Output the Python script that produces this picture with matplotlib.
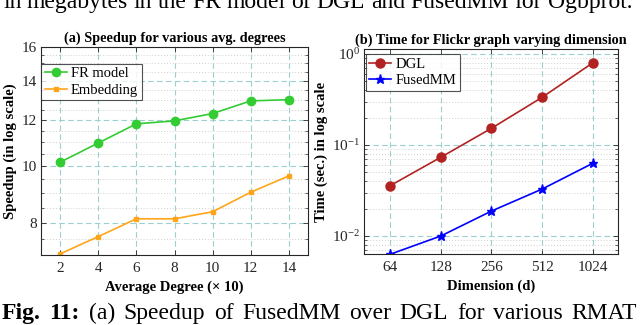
import matplotlib
matplotlib.use("Agg")
import matplotlib.pyplot as plt
import matplotlib.ticker as mticker
import numpy as np

# ---- data ----
avg_degree = [2, 4, 6, 8, 10, 12, 14]
fr_model = [10.16, 10.96, 11.82, 11.96, 12.31, 12.94, 13.0]
embedding = [7.08, 7.58, 8.13, 8.13, 8.36, 9.03, 9.63]

dimension = [64, 128, 256, 512, 1024]
dgl_time = [0.0357, 0.0733, 0.1526, 0.334, 0.80]
fusedmm_time = [0.0063, 0.0100, 0.0188, 0.0328, 0.063]

left_yticks = [8, 10, 12, 14, 16]
left_yminor = [7.5, 8.5, 9, 9.5, 10.5, 11, 11.5, 12.5, 13, 13.5, 14.5, 15, 15.5]

top_text = "in megabytes in the FR model of DGL and FusedMM for Ogbprot."
caption_bold = ["Fig.", "11:"]
caption_rest = "(a) Speedup of FusedMM over DGL for various RMAT"

plt.rcParams['font.family'] = ['Liberation Serif', 'DejaVu Serif']
plt.rcParams['mathtext.fontset'] = 'stix'

W, H = 640, 325
fig = plt.figure(figsize=(6.4, 3.25), dpi=100)

GRID_MAJ = '#9ccfcf'
GRID_MIN = '#cfcfcf'
TICK_FS = 11


def style_axes(ax):
    for s in ax.spines.values():
        s.set_color('#262626')
        s.set_linewidth(0.8)
    ax.tick_params(which='both', direction='in', top=True, right=True,
                   labelsize=TICK_FS, colors='#262626', labelcolor='#262626')
    ax.tick_params(which='major', length=3.5, width=0.6)
    ax.tick_params(which='minor', length=2, width=0.5)
    ax.tick_params(axis='x', which='major', pad=5)
    ax.tick_params(axis='y', which='major', pad=3)
    ax.grid(True, which='major', linestyle=(0, (5, 3)), color=GRID_MAJ, linewidth=0.8)
    ax.set_axisbelow(True)


# ---- left axes ----
ax1 = fig.add_axes([41 / W, 1 - 255 / H, 267 / W, 208 / H])
ax1.set_yscale('log')
ax1.plot(avg_degree, fr_model, '-o', color='#33cc33', lw=1.2, ms=6, label='FR model')
ax1.plot(avg_degree, embedding, '-s', color='#ffa51a', lw=1.2, ms=3.5, label='Embedding')
ax1.set_xlim(1, 15)
ax1.set_ylim(7.05, 16)
ax1.set_xticks(avg_degree)
ax1.set_yticks(left_yticks)
ax1.set_yticks(left_yminor, minor=True)
ax1.yaxis.set_major_formatter(mticker.FixedFormatter([str(v) for v in left_yticks]))
ax1.yaxis.set_minor_formatter(mticker.NullFormatter())
ax1.xaxis.set_minor_locator(mticker.NullLocator())
style_axes(ax1)
ax1.grid(True, which='minor', axis='y', linestyle=(0, (1, 2)), color=GRID_MIN, linewidth=0.7)
ax1.set_title('(a) Speedup for various avg. degrees', fontsize=10.3, fontweight='bold', pad=4)
ax1.set_xlabel('Average Degree (× 10)', fontsize=10.5, fontweight='bold', labelpad=4)
ax1.set_ylabel('Speedup (in log scale)', fontsize=10.5, fontweight='bold', labelpad=3)
leg1 = ax1.legend(loc='upper left', bbox_to_anchor=(0.0, 0.92), fontsize=10.5, frameon=True,
                  fancybox=False, edgecolor='#262626', handlelength=1.5, handletextpad=0.3,
                  borderpad=0.25, labelspacing=0.2, borderaxespad=0.0)
leg1.get_frame().set_linewidth(0.8)

# ---- right axes ----
ax2 = fig.add_axes([364.3 / W, 1 - 254.3 / H, 253.4 / W, 205.3 / H])
ax2.set_xscale('log', base=2)
ax2.set_yscale('log')
ax2.plot(dimension, dgl_time, '-o', color='#b22222', lw=1.2, ms=6.5, label='DGL')
ax2.plot(dimension, fusedmm_time, '-*', color='#0000ff', lw=1.2, ms=6.5, label='FusedMM')
ax2.set_xlim(45, 1440)
ax2.set_ylim(0.0063, 1.135)
ax2.set_xticks(dimension)
ax2.xaxis.set_major_formatter(mticker.FixedFormatter([str(v) for v in dimension]))
ax2.xaxis.set_minor_locator(mticker.NullLocator())
ax2.yaxis.set_major_locator(mticker.LogLocator(base=10, numticks=10))
ax2.yaxis.set_minor_locator(mticker.LogLocator(base=10, subs=np.arange(2, 10), numticks=20))
ax2.yaxis.set_minor_formatter(mticker.NullFormatter())
style_axes(ax2)
ax2.grid(True, which='minor', axis='y', linestyle=(0, (1, 2)), color=GRID_MIN, linewidth=0.7)
ax2.set_title('(b) Time for Flickr graph varying dimension', fontsize=10.3, fontweight='bold', pad=4)
ax2.set_xlabel('Dimension (d)', fontsize=10.5, fontweight='bold', labelpad=4)
ax2.set_ylabel('Time (sec.) in log scale', fontsize=10.5, fontweight='bold', labelpad=3)
leg2 = ax2.legend(loc='upper left', bbox_to_anchor=(0.005, 0.975), fontsize=10.5, frameon=True,
                  fancybox=False, edgecolor='#262626', handlelength=1.5, handletextpad=0.3,
                  borderpad=0.25, labelspacing=0.2, borderaxespad=0.0)
leg2.get_frame().set_linewidth(0.8)

# ---- surrounding page text (justified) ----
renderer = fig.canvas.get_renderer()


def justify(words, weights, x0, x1, ybase, fs):
    arts = []
    for w, wt in zip(words, weights):
        t = fig.text(0, 1 - ybase / H, w, fontsize=fs, fontweight=wt, va='baseline', ha='left')
        arts.append(t)
    widths = [a.get_window_extent(renderer).width for a in arts]
    gap = (x1 - x0 - sum(widths)) / max(len(words) - 1, 1)
    x = x0
    for a, w in zip(arts, widths):
        a.set_x(x / W)
        x += w + gap


tw = top_text.split()
justify(tw, ['normal'] * len(tw), 3, 632, 8, 17)
cw = caption_bold + caption_rest.split()
justify(cw, ['bold'] * len(caption_bold) + ['normal'] * len(caption_rest.split()), 2, 637, 319, 17)

fig.savefig('out.png', dpi=100)
